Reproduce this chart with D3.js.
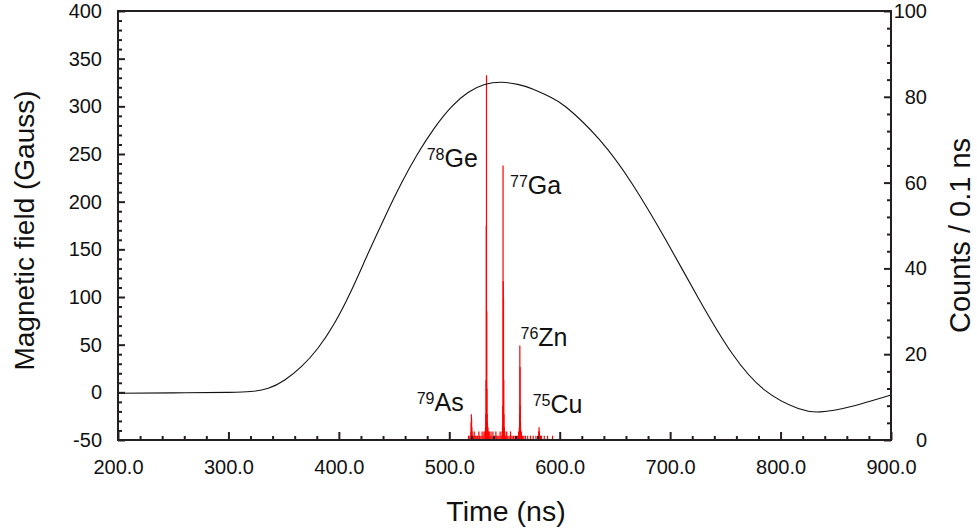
<!DOCTYPE html>
<html>
<head>
<meta charset="utf-8">
<script src="https://cdn.jsdelivr.net/npm/d3@7/dist/d3.min.js"></script>
<style>
  html, body { margin: 0; padding: 0; background: #fff; }
  svg { display: block; font-family: "Liberation Sans", Arial, Helvetica, sans-serif; }
</style>
</head>
<body>
<svg id="chart" width="977" height="531"></svg>
<script>
// ---- Data ----
const xTickValues = [200, 300, 400, 500, 600, 700, 800, 900];
const leftTickValues = [-50, 0, 50, 100, 150, 200, 250, 300, 350, 400];
const rightTickValues = [0, 20, 40, 60, 80, 100];

// Magnetic field curve (Gauss vs ns)
const fieldTime  = [200, 250, 300, 320, 336, 351, 366, 381, 396, 411, 426, 441.5, 456.5, 471.5, 487, 502, 517, 532, 547, 562, 576, 591, 606, 636, 666, 696, 726, 756, 786, 816, 836, 863, 900];
const fieldGauss = [-1, -0.6, 0, 0.8, 4.2, 12.9, 26.9, 46.2, 72.4, 106, 144.5, 183.5, 219, 250.5, 278, 299.5, 314.5, 322.8, 325.3, 323, 318, 310, 299, 265, 218, 160, 98, 41, 2, -17, -20.5, -15.2, -2.8];

// Time-of-flight spectrum (counts / 0.1 ns)
const specTime   = [517.4, 518.6, 519.6, 519.8, 520.0, 520.2, 520.4, 520.6, 521.0, 521.8, 522.6, 523.5, 524.4, 525.6, 526.8, 527.5, 528.6, 529.7, 530.5, 531.4, 532.2, 532.8, 533.1, 533.3, 533.5, 533.7, 533.9, 534.1, 534.3, 534.6, 535.0, 535.5, 536.2, 537.0, 537.8, 538.6, 539.5, 540.4, 541.3, 542.2, 543.0, 544.0, 545.0, 546.0, 547.0, 547.8, 548.2, 548.5, 548.7, 548.9, 549.1, 549.3, 549.5, 549.8, 550.3, 551.0, 552.0, 553.0, 554.2, 555.5, 556.8, 558.0, 559.4, 560.6, 561.8, 562.8, 563.4, 563.7, 563.9, 564.1, 564.3, 564.5, 564.8, 565.3, 566.2, 567.5, 569.0, 571.0, 573.5, 576.0, 578.5, 580.5, 581.0, 581.3, 581.6, 581.9, 582.5, 583.5, 586.0, 589.0, 593.5];
const specCounts = [1, 1, 2, 4, 6, 5, 3, 2, 1, 1, 2, 1, 1, 1, 2, 1, 1, 2, 1, 2, 2, 3, 6, 14, 50, 85, 30, 12, 6, 4, 3, 2, 2, 1, 2, 1, 2, 1, 1, 2, 1, 1, 1, 2, 1, 2, 3, 8, 64, 37, 33, 14, 6, 3, 2, 1, 2, 1, 1, 2, 1, 1, 1, 1, 1, 2, 3, 6, 22, 17, 8, 4, 2, 2, 1, 1, 1, 1, 1, 1, 1, 1, 2, 3, 2, 1, 1, 1, 1, 1, 1];

// Isotope labels
const isoMass  = ["78", "77", "76", "79", "75"];
const isoElem  = ["Ge", "Ga", "Zn", "As", "Cu"];
const isoTime  = [479.5, 555.0, 564.5, 470.5, 575.5];   // left edge of label, in ns
const isoCount = [63.6, 57.3, 21.8, 6.8, 6.3];          // baseline, in counts

// ---- Layout ----
const L = 118, R = 891, T = 11, B = 440;
const axisColor = "#231f20";
const svg = d3.select("#chart");

const x = d3.scaleLinear().domain([200, 900]).range([L, R]);
const yL = d3.scaleLinear().domain([-50, 400]).range([B, T]);
const yR = d3.scaleLinear().domain([0, 100]).range([B, T]);

// ---- Spectrum (red) ----
const specData = specTime.map((t, i) => ({ t, c: specCounts[i] }));
svg.append("g").selectAll("line").data(specData).join("line")
  .attr("x1", d => x(d.t)).attr("x2", d => x(d.t))
  .attr("y1", yR(0)).attr("y2", d => yR(d.c))
  .attr("stroke", "#ff0000").attr("stroke-width", 1.2);

// ---- Field curve ----
const fieldData = fieldTime.map((t, i) => ({ t, g: fieldGauss[i] }));
svg.append("path").datum(fieldData)
  .attr("d", d3.line().x(d => x(d.t)).y(d => yL(d.g)).curve(d3.curveNatural))
  .attr("fill", "none").attr("stroke", "#111").attr("stroke-width", 1.1);

// ---- Axes ----
const fmtInt = d => String(d);   // plain hyphen minus
function styleAxis(g) {
  g.selectAll(".domain").remove();
  g.selectAll("line").attr("stroke", axisColor).attr("stroke-width", 2);
  g.selectAll("text").attr("fill", "#111").attr("font-size", 20)
    .attr("font-family", '"Liberation Sans", Arial, sans-serif');
}

// minor ticks
const xMinor = d3.range(200, 901, 20).filter(v => v % 100 !== 0);
const lMinor = d3.range(-50, 401, 10).filter(v => v % 50 !== 0);
const rMinor = d3.range(0, 101, 4).filter(v => v % 20 !== 0);

const gx = svg.append("g").attr("transform", `translate(0,${B})`)
  .call(d3.axisBottom(x).tickValues(xTickValues).tickFormat(d => d.toFixed(1)).tickSizeInner(-8).tickSizeOuter(0).tickPadding(20));
styleAxis(gx);
const gxm = svg.append("g").attr("transform", `translate(0,${B})`)
  .call(d3.axisBottom(x).tickValues(xMinor).tickFormat("").tickSizeInner(-4).tickSizeOuter(0));
styleAxis(gxm);

const gl = svg.append("g").attr("transform", `translate(${L},0)`)
  .call(d3.axisLeft(yL).tickValues(leftTickValues).tickFormat(fmtInt).tickSizeInner(-7).tickSizeOuter(0).tickPadding(16));
styleAxis(gl);
const glm = svg.append("g").attr("transform", `translate(${L},0)`)
  .call(d3.axisLeft(yL).tickValues(lMinor).tickFormat("").tickSizeInner(-4).tickSizeOuter(0));
styleAxis(glm);

const gr = svg.append("g").attr("transform", `translate(${R},0)`)
  .call(d3.axisRight(yR).tickValues(rightTickValues).tickFormat(fmtInt).tickSizeInner(-7).tickSizeOuter(0).tickPadding(36));
styleAxis(gr);
gr.selectAll("text").attr("text-anchor", "end");
const grm = svg.append("g").attr("transform", `translate(${R},0)`)
  .call(d3.axisRight(yR).tickValues(rMinor).tickFormat("").tickSizeInner(-4).tickSizeOuter(0));
styleAxis(grm);

// frame
svg.append("rect").attr("x", L).attr("y", T).attr("width", R - L).attr("height", B - T)
  .attr("fill", "none").attr("stroke", axisColor).attr("stroke-width", 2);

// ---- Axis titles ----
svg.append("text").attr("x", 506).attr("y", 521).attr("text-anchor", "middle")
  .attr("font-size", 28.5).attr("fill", "#111").text("Time (ns)");
svg.append("text").attr("transform", `translate(34,${(T + B) / 2 + 5}) rotate(-90)`)
  .attr("text-anchor", "middle").attr("font-size", 28).attr("fill", "#111").text("Magnetic field (Gauss)");
svg.append("text").attr("transform", `translate(970,${(T + B) / 2 + 10}) rotate(-90)`)
  .attr("text-anchor", "middle").attr("font-size", 29).attr("fill", "#111").text("Counts / 0.1 ns");

// ---- Isotope labels ----
const labels = svg.append("g");
isoMass.forEach((m, i) => {
  const t = labels.append("text").attr("x", x(isoTime[i])).attr("y", yR(isoCount[i])).attr("fill", "#111");
  t.append("tspan").attr("font-size", 16).attr("dy", -7).text(m);
  t.append("tspan").attr("font-size", 25).attr("dy", 7).text(isoElem[i]);
});
</script>
</body>
</html>
